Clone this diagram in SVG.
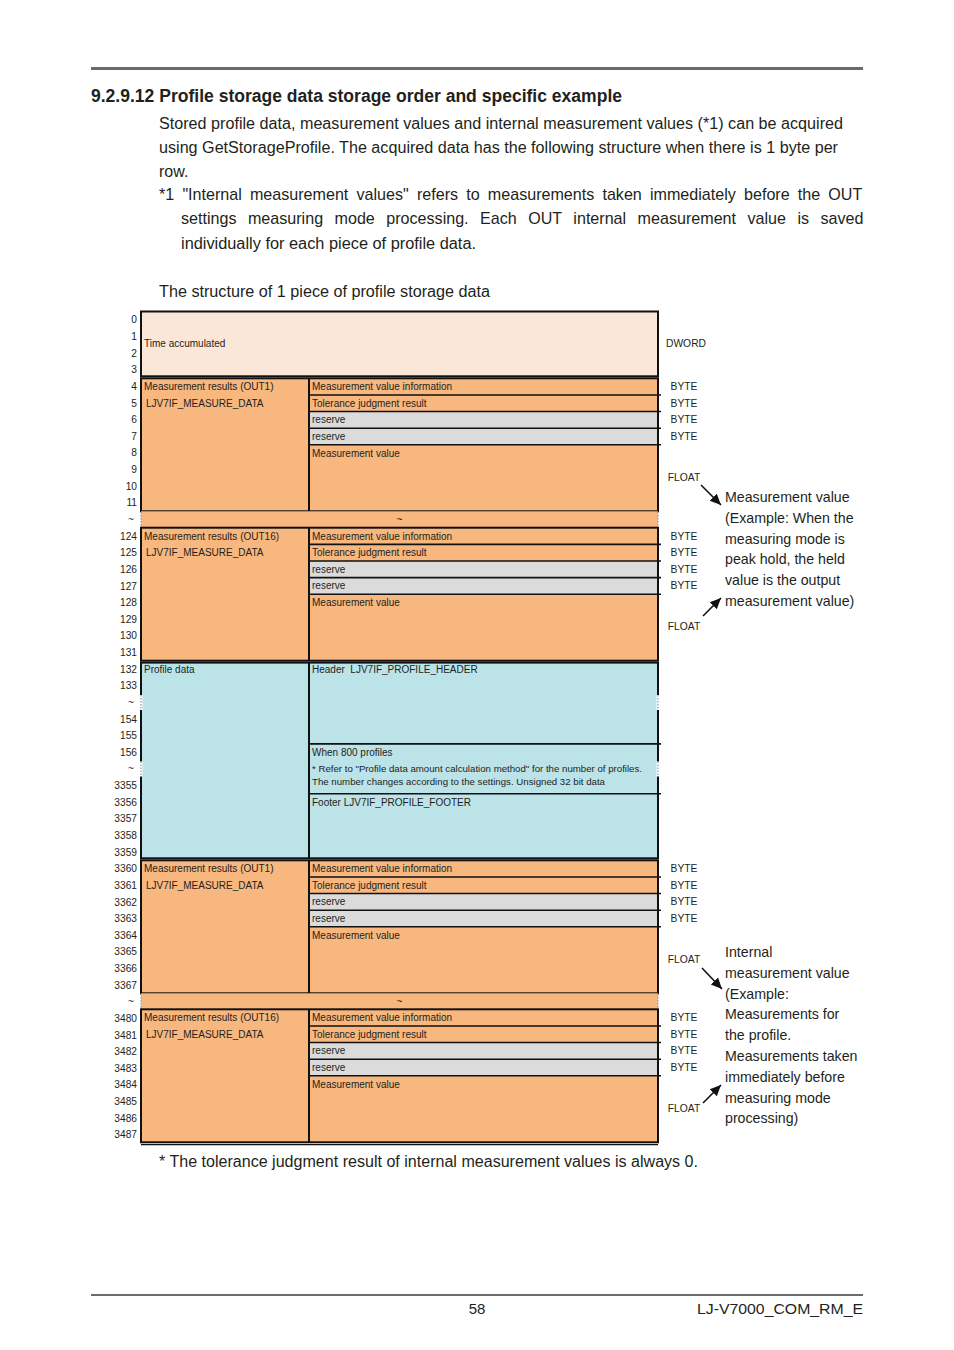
<svg xmlns="http://www.w3.org/2000/svg" width="954" height="1350" viewBox="0 0 954 1350">
<defs>
<style>
.t{font-family:"Liberation Sans",Arial,Helvetica,sans-serif;fill:#231f20}
.s{font-size:10px}
.sm{font-size:9px}
.lbl{font-size:10.2px;text-anchor:end}
.c{text-anchor:middle}
.r{font-size:10.3px;text-anchor:middle}
.body{font-size:16px}
.ann{font-size:14.2px}
.pe{fill:#fbe7d8}
.or{fill:#f8b77f}
.bl{fill:#bbe3e8}
.gr{fill:#dbdbdb}
.ln{stroke:#111;stroke-width:1.6;fill:none}
.fr{stroke:#111;stroke-width:2;fill:none}
.dash{stroke:#999;stroke-width:1.2;stroke-dasharray:1.5 1.5;fill:none}
.wht{stroke:#fff;stroke-width:3;fill:none}
.arr{stroke:#111;stroke-width:1.6;fill:none;marker-end:url(#ah)}
</style>
<marker id="ah" markerUnits="userSpaceOnUse" markerWidth="12" markerHeight="12" refX="11" refY="5" orient="auto" viewBox="0 0 12 10">
<path d="M0,0 L11,5 L0,10 z" fill="#111"/>
</marker>
</defs>
<rect width="954" height="1350" fill="#fff"/>

<g id="page">
<line x1="91" y1="68.5" x2="863" y2="68.5" stroke="#6b6b6b" stroke-width="3"/>
<text class="t" x="91" y="102" font-size="17.5" font-weight="bold" textLength="531" lengthAdjust="spacingAndGlyphs">9.2.9.12 Profile storage data storage order and specific example</text>
<text class="t body" x="159" y="128.5" textLength="684" lengthAdjust="spacingAndGlyphs">Stored profile data, measurement values and internal measurement values (*1) can be acquired</text>
<text class="t body" x="159" y="152.5" textLength="679" lengthAdjust="spacingAndGlyphs">using GetStorageProfile. The acquired data has the following structure when there is 1 byte per</text>
<text class="t body" x="159" y="176.5">row.</text>
<text class="t" x="159" y="199.5" font-size="16.1" word-spacing="3.7">*1 "Internal measurement values" refers to measurements taken immediately before the OUT</text>
<text class="t" x="181" y="224" font-size="16.1" word-spacing="7">settings measuring mode processing. Each OUT internal measurement value is saved</text>
<text class="t body" x="181" y="248.5" textLength="295" lengthAdjust="spacingAndGlyphs">individually for each piece of profile data.</text>
<text class="t body" x="159" y="296.5" textLength="331" lengthAdjust="spacingAndGlyphs">The structure of 1 piece of profile storage data</text>
<text class="t body" x="159" y="1166.5" textLength="539" lengthAdjust="spacingAndGlyphs">* The tolerance judgment result of internal measurement values is always 0.</text>
<line x1="91" y1="1295" x2="863" y2="1295" stroke="#6b6b6b" stroke-width="2"/>
<text class="t c" x="477" y="1313.5" font-size="15">58</text>
<text class="t" x="697" y="1313.5" font-size="15" textLength="166" lengthAdjust="spacingAndGlyphs">LJ-V7000_COM_RM_E</text>
</g>

<g id="row-labels" class="t lbl">
<text x="137" y="323.4">0</text><text x="137" y="340.0">1</text><text x="137" y="356.7">2</text><text x="137" y="373.3">3</text>
<text x="137" y="389.9">4</text><text x="137" y="406.6">5</text><text x="137" y="423.2">6</text><text x="137" y="439.8">7</text>
<text x="137" y="456.4">8</text><text x="137" y="473.1">9</text><text x="137" y="489.7">10</text><text x="137" y="506.3">11</text>
<text x="134" y="523.0">~</text>
<text x="137" y="539.6">124</text><text x="137" y="556.2">125</text><text x="137" y="572.9">126</text><text x="137" y="589.5">127</text>
<text x="137" y="606.1">128</text><text x="137" y="622.7">129</text><text x="137" y="639.4">130</text><text x="137" y="656.0">131</text>
<text x="137" y="672.6">132</text><text x="137" y="689.3">133</text><text x="134" y="705.9">~</text><text x="137" y="722.5">154</text>
<text x="137" y="739.2">155</text><text x="137" y="755.8">156</text><text x="134" y="772.4">~</text><text x="137" y="789.0">3355</text>
<text x="137" y="805.7">3356</text><text x="137" y="822.3">3357</text><text x="137" y="838.9">3358</text><text x="137" y="855.6">3359</text>
<text x="137" y="872.2">3360</text><text x="137" y="888.8">3361</text><text x="137" y="905.5">3362</text><text x="137" y="922.1">3363</text>
<text x="137" y="938.7">3364</text><text x="137" y="955.3">3365</text><text x="137" y="972.0">3366</text><text x="137" y="988.6">3367</text>
<text x="134" y="1005.2">~</text>
<text x="137" y="1021.9">3480</text><text x="137" y="1038.5">3481</text><text x="137" y="1055.1">3482</text><text x="137" y="1071.8">3483</text>
<text x="137" y="1088.4">3484</text><text x="137" y="1105.0">3485</text><text x="137" y="1121.6">3486</text><text x="137" y="1138.3">3487</text>
</g>

<g id="time-accumulated">
<rect class="pe" x="141" y="311.5" width="517" height="64.8"/>
<rect class="fr" x="141" y="311.5" width="517" height="64.8"/>
<text class="t s" x="144" y="346.6">Time accumulated</text>
<text class="t r" x="686" y="346.6">DWORD</text>
</g>

<g id="out1" transform="translate(0,378.3)">
<rect class="or" x="141" y="0" width="517" height="133"/>
<rect class="gr" x="309" y="33.26" width="349" height="33.26"/>
<path class="ln" d="M309,16.63H661M309,33.26H661M309,49.89H661M309,66.52H661"/>
<path class="fr" d="M309,0V133"/>
<rect class="fr" x="141" y="0" width="517" height="133"/>
<text class="t s" x="144" y="11.9">Measurement results (OUT1)</text>
<text class="t s" x="146" y="28.5">LJV7IF_MEASURE_DATA</text>
<text class="t s" x="312" y="11.9">Measurement value information</text>
<text class="t s" x="312" y="28.5">Tolerance judgment result</text>
<text class="t s" x="312" y="45.2">reserve</text>
<text class="t s" x="312" y="61.8">reserve</text>
<text class="t s" x="312" y="78.4">Measurement value</text>
<text class="t r" x="684" y="11.9">BYTE</text>
<text class="t r" x="684" y="28.5">BYTE</text>
<text class="t r" x="684" y="45.2">BYTE</text>
<text class="t r" x="684" y="61.8">BYTE</text>
<text class="t r" x="684" y="102.3">FLOAT</text>
</g>

<g id="skip1">
<rect class="or" x="141" y="511.3" width="517" height="16.4"/>
<path class="dash" d="M141,512V527M658,512V527"/>
<text class="t s c" x="399.5" y="523">~</text>
</g>

<g id="out16" transform="translate(0,527.7)">
<rect class="or" x="141" y="0" width="517" height="133"/>
<rect class="gr" x="309" y="33.26" width="349" height="33.26"/>
<path class="ln" d="M309,16.63H661M309,33.26H661M309,49.89H661M309,66.52H661"/>
<path class="fr" d="M309,0V133"/>
<rect class="fr" x="141" y="0" width="517" height="133"/>
<text class="t s" x="144" y="11.9">Measurement results (OUT16)</text>
<text class="t s" x="146" y="28.5">LJV7IF_MEASURE_DATA</text>
<text class="t s" x="312" y="11.9">Measurement value information</text>
<text class="t s" x="312" y="28.5">Tolerance judgment result</text>
<text class="t s" x="312" y="45.2">reserve</text>
<text class="t s" x="312" y="61.8">reserve</text>
<text class="t s" x="312" y="78.4">Measurement value</text>
<text class="t r" x="684" y="11.9">BYTE</text>
<text class="t r" x="684" y="28.5">BYTE</text>
<text class="t r" x="684" y="45.2">BYTE</text>
<text class="t r" x="684" y="61.8">BYTE</text>
<text class="t r" x="684" y="102.3">FLOAT</text>
</g>

<g id="profile-data">
<rect class="bl" x="141" y="662.6" width="517" height="195.7"/>
<path class="ln" d="M309,743.9H661M309,793.8H661"/>
<path class="fr" d="M309,662.6V858.3"/>
<rect class="fr" x="141" y="662.6" width="517" height="195.7"/>
<path class="wht" d="M141,695V710M658,695V710M141,761.5V776.5M658,761.5V776.5"/>
<path class="dash" d="M141,695V710M658,695V710M141,761.5V776.5M658,761.5V776.5"/>
<text class="t s" x="144" y="672.6">Profile data</text>
<text class="t s" x="312" y="672.6" xml:space="preserve">Header  LJV7IF_PROFILE_HEADER</text>
<text class="t s" x="312" y="755.8">When 800 profiles</text>
<text class="t sm" x="312" y="771.5" textLength="330" lengthAdjust="spacingAndGlyphs">* Refer to "Profile data amount calculation method" for the number of profiles.</text>
<text class="t sm" x="312" y="784.5" textLength="293" lengthAdjust="spacingAndGlyphs">The number changes according to the settings. Unsigned 32 bit data</text>
<text class="t s" x="312" y="805.7">Footer LJV7IF_PROFILE_FOOTER</text>
</g>

<g id="out1-internal" transform="translate(0,860.3)">
<rect class="or" x="141" y="0" width="517" height="133"/>
<rect class="gr" x="309" y="33.26" width="349" height="33.26"/>
<path class="ln" d="M309,16.63H661M309,33.26H661M309,49.89H661M309,66.52H661"/>
<path class="fr" d="M309,0V133"/>
<rect class="fr" x="141" y="0" width="517" height="133"/>
<text class="t s" x="144" y="11.9">Measurement results (OUT1)</text>
<text class="t s" x="146" y="28.5">LJV7IF_MEASURE_DATA</text>
<text class="t s" x="312" y="11.9">Measurement value information</text>
<text class="t s" x="312" y="28.5">Tolerance judgment result</text>
<text class="t s" x="312" y="45.2">reserve</text>
<text class="t s" x="312" y="61.8">reserve</text>
<text class="t s" x="312" y="78.4">Measurement value</text>
<text class="t r" x="684" y="11.9">BYTE</text>
<text class="t r" x="684" y="28.5">BYTE</text>
<text class="t r" x="684" y="45.2">BYTE</text>
<text class="t r" x="684" y="61.8">BYTE</text>
<text class="t r" x="684" y="102.3">FLOAT</text>
</g>

<g id="skip2">
<rect class="or" x="141" y="993.3" width="517" height="16"/>
<path class="dash" d="M141,994V1009M658,994V1009"/>
<text class="t s c" x="399.5" y="1005">~</text>
</g>

<g id="out16-internal" transform="translate(0,1009.3)">
<rect class="or" x="141" y="0" width="517" height="133"/>
<rect class="gr" x="309" y="33.26" width="349" height="33.26"/>
<path class="ln" d="M309,16.63H661M309,33.26H661M309,49.89H661M309,66.52H661"/>
<path class="fr" d="M309,0V133"/>
<rect class="fr" x="141" y="0" width="517" height="133"/>
<line x1="141" y1="135.3" x2="658" y2="135.3" stroke="#111" stroke-width="1.3"/>
<text class="t s" x="144" y="11.9">Measurement results (OUT16)</text>
<text class="t s" x="146" y="28.5">LJV7IF_MEASURE_DATA</text>
<text class="t s" x="312" y="11.9">Measurement value information</text>
<text class="t s" x="312" y="28.5">Tolerance judgment result</text>
<text class="t s" x="312" y="45.2">reserve</text>
<text class="t s" x="312" y="61.8">reserve</text>
<text class="t s" x="312" y="78.4">Measurement value</text>
<text class="t r" x="684" y="11.9">BYTE</text>
<text class="t r" x="684" y="28.5">BYTE</text>
<text class="t r" x="684" y="45.2">BYTE</text>
<text class="t r" x="684" y="61.8">BYTE</text>
<text class="t r" x="684" y="102.3">FLOAT</text>
</g>

<g id="note-measurement-value" class="t ann">
<text x="725" y="502">Measurement value</text>
<text x="725" y="522.8">(Example: When the</text>
<text x="725" y="543.6">measuring mode is</text>
<text x="725" y="564.4">peak hold, the held</text>
<text x="725" y="585.2">value is the output</text>
<text x="725" y="606">measurement value)</text>
</g>

<g id="note-internal-value" class="t ann">
<text x="725" y="957">Internal</text>
<text x="725" y="977.8">measurement value</text>
<text x="725" y="998.6">(Example:</text>
<text x="725" y="1019.4">Measurements for</text>
<text x="725" y="1040.2">the profile.</text>
<text x="725" y="1061">Measurements taken</text>
<text x="725" y="1081.8">immediately before</text>
<text x="725" y="1102.6">measuring mode</text>
<text x="725" y="1123.4">processing)</text>
</g>

<g id="connectors">
<line class="arr" x1="701" y1="485" x2="721" y2="505"/>
<line class="arr" x1="703" y1="616" x2="721" y2="598"/>
<line class="arr" x1="702" y1="968" x2="722" y2="989"/>
<line class="arr" x1="703" y1="1103" x2="721" y2="1085"/>
</g>
</svg>
